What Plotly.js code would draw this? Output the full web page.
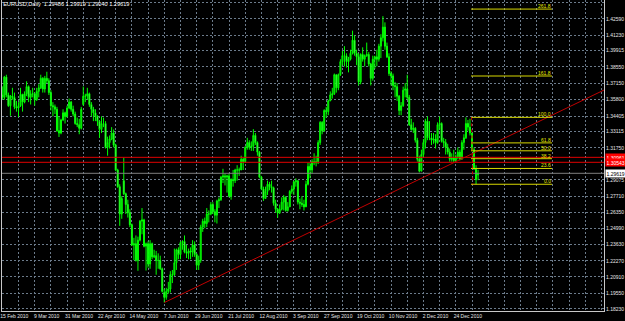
<!DOCTYPE html>
<html><head><meta charset="utf-8">
<script src="https://cdn.plot.ly/plotly-3.0.1.min.js"></script>
<style>html,body{margin:0;padding:0;background:#000;overflow:hidden}#chart{width:625px;height:321px}</style>
</head><body><div id="chart"></div>
<script>
const symbolTitle = 'EURUSD,Daily  1.29486 1.29919 1.29040 1.29619';
const dateLabels = ['15 Feb 2010','9 Mar 2010','31 Mar 2010','22 Apr 2010','14 May 2010','7 Jun 2010','29 Jun 2010','21 Jul 2010','12 Aug 2010','3 Sep 2010','27 Sep 2010','19 Oct 2010','10 Nov 2010','2 Dec 2010','24 Dec 2010'];

const open = [
1.3620,1.3600,1.3770,1.3620,1.3530, 1.3610,1.3600,1.3520,1.3510,1.3530,
1.3625,1.3560,1.3630,1.3690,1.3600, 1.3630,1.3630,1.3580,1.3650,1.3680,
1.3760,1.3670,1.3760,1.3740,1.3640, 1.3530,1.3520,1.3500,1.3320,1.3300,
1.3410,1.3470,1.3440,1.3510,1.3560, 1.3500,1.3460,1.3380,1.3370,1.3340,
1.3540,1.3610,1.3610,1.3630,1.3540, 1.3500,1.3470,1.3440,1.3400,1.3330,
1.3380,1.3380,1.3180,1.3220,1.3250, 1.3300,1.3200,1.2990,1.2850,1.2620,
1.2900,1.2790,1.2700,1.2630,1.2530, 1.2360,1.2370,1.2230,1.2400,1.2560,
1.2570,1.2350,1.2370,1.2200,1.2370, 1.2260,1.2270,1.2230,1.2230,1.2160,
1.1960,1.1920,1.1970,1.1990,1.2110, 1.2110,1.2210,1.2320,1.2280,1.2380,
1.2390,1.2300,1.2290,1.2310,1.2300, 1.2360,1.2280,1.2190,1.2230,1.2510,
1.2560,1.2540,1.2620,1.2620,1.2700, 1.2640,1.2610,1.2730,1.2740,1.2930,
1.2940,1.2930,1.2940,1.2770,1.2910, 1.2900,1.2990,1.2990,1.2990,1.3080,
1.3060,1.3180,1.3220,1.3180,1.3190, 1.3280,1.3220,1.3140,1.2930,1.2830,
1.2750,1.2810,1.2870,1.2850,1.2840, 1.2710,1.2660,1.2630,1.2660,1.2720,
1.2760,1.2650,1.2680,1.2810,1.2830, 1.2890,1.2900,1.2720,1.2710,1.2700,
1.2680,1.2870,1.3020,1.2990,1.3060, 1.3050,1.3060,1.3220,1.3390,1.3320,
1.3490,1.3480,1.3570,1.3620,1.3630, 1.3790,1.3680,1.3790,1.3900,1.3950,
1.3950,1.3900,1.3920,1.3970,1.4080, 1.3970,1.3940,1.3730,1.3960,1.3920,
1.3950,1.3960,1.3880,1.3760,1.3920, 1.3940,1.3920,1.4030,1.4100,1.4190,
1.4030,1.3940,1.3800,1.3780,1.3700, 1.3690,1.3610,1.3490,1.3530,1.3660,
1.3670,1.3600,1.3370,1.3330,1.3340, 1.3240,1.3080,1.2980,1.3120,1.3220,
1.3400,1.3260,1.3260,1.3240,1.3250, 1.3220,1.3370,1.3380,1.3230,1.3220,
1.3180,1.3140,1.3080,1.3090,1.3070, 1.3100,1.3140,1.3080,1.3220,1.3260,
1.3380,1.3350,1.3300,1.3160,1.3000, 1.29486];

const high = [
1.3692,1.3780,1.3790,1.3640,1.3620, 1.3680,1.3640,1.3570,1.3560,1.3680,
1.3630,1.3650,1.3735,1.3700,1.3660, 1.3680,1.3640,1.3680,1.3710,1.3790,
1.3770,1.3780,1.3815,1.3760,1.3660, 1.3560,1.3540,1.3520,1.3440,1.3420,
1.3500,1.3480,1.3530,1.3590,1.3570, 1.3530,1.3480,1.3430,1.3420,1.3520,
1.3691,1.3630,1.3680,1.3640,1.3560, 1.3520,1.3500,1.3450,1.3400,1.3440,
1.3430,1.3400,1.3270,1.3280,1.3350, 1.3330,1.3210,1.3000,1.2870,1.2770,
1.3094,1.2800,1.2740,1.2660,1.2540, 1.2420,1.2440,1.2430,1.2570,1.2670,
1.2580,1.2380,1.2390,1.2400,1.2380, 1.2320,1.2310,1.2290,1.2270,1.2170,
1.1990,1.2000,1.2050,1.2140,1.2150, 1.2330,1.2330,1.2340,1.2390,1.2400,
1.2440,1.2360,1.2330,1.2340,1.2400, 1.2390,1.2290,1.2270,1.2530,1.2580,
1.2590,1.2670,1.2650,1.2720,1.2720, 1.2660,1.2740,1.2760,1.2940,1.3000,
1.2960,1.2950,1.2960,1.2920,1.2990, 1.3000,1.3030,1.3010,1.3110,1.3090,
1.3190,1.3260,1.3240,1.3230,1.3333, 1.3300,1.3230,1.3150,1.2940,1.2850,
1.2850,1.2900,1.2890,1.2900,1.2850, 1.2740,1.2670,1.2700,1.2760,1.2780,
1.2770,1.2720,1.2820,1.2860,1.2900, 1.2920,1.2900,1.2750,1.2770,1.2740,
1.2900,1.3050,1.3050,1.3080,1.3130, 1.3110,1.3240,1.3400,1.3400,1.3500,
1.3520,1.3580,1.3650,1.3680,1.3800, 1.3790,1.3800,1.3920,1.3990,1.4030,
1.3970,1.3940,1.4000,1.4160,1.4120, 1.4000,1.3970,1.3970,1.4020,1.3960,
1.4060,1.3980,1.3890,1.3950,1.3950, 1.4000,1.4050,1.4130,1.4282,1.4230,
1.4060,1.3970,1.3820,1.3800,1.3730, 1.3720,1.3620,1.3560,1.3690,1.3720,
1.3790,1.3620,1.3420,1.3390,1.3350, 1.3260,1.3110,1.3160,1.3250,1.3420,
1.3440,1.3400,1.3300,1.3300,1.3290, 1.3390,1.3440,1.3390,1.3260,1.3250,
1.3210,1.3170,1.3130,1.3160,1.3120, 1.3180,1.3160,1.3240,1.3290,1.3432,
1.3410,1.3420,1.3300,1.3180,1.3030, 1.29919];

const low = [
1.3580,1.3580,1.3600,1.3520,1.3445, 1.3580,1.3500,1.3480,1.3435,1.3520,
1.3480,1.3550,1.3610,1.3560,1.3540, 1.3600,1.3530,1.3570,1.3600,1.3670,
1.3640,1.3640,1.3720,1.3620,1.3490, 1.3440,1.3460,1.3310,1.3267,1.3290,
1.3400,1.3380,1.3430,1.3500,1.3480, 1.3440,1.3370,1.3350,1.3290,1.3330,
1.3530,1.3560,1.3580,1.3520,1.3440, 1.3400,1.3400,1.3360,1.3260,1.3300,
1.3350,1.3170,1.3110,1.3170,1.3240, 1.3180,1.2980,1.2840,1.2520,1.2580,
1.2780,1.2620,1.2590,1.2510,1.2350, 1.2233,1.2220,1.2143,1.2390,1.2450,
1.2340,1.2145,1.2170,1.2160,1.2240, 1.2250,1.2110,1.2160,1.2150,1.1960,
1.1876,1.1900,1.1950,1.1960,1.2040, 1.2100,1.2150,1.2240,1.2240,1.2320,
1.2290,1.2250,1.2240,1.2240,1.2260, 1.2260,1.2150,1.2150,1.2210,1.2470,
1.2500,1.2510,1.2550,1.2610,1.2620, 1.2550,1.2540,1.2670,1.2730,1.2880,
1.2860,1.2800,1.2760,1.2740,1.2850, 1.2880,1.2900,1.2940,1.2990,1.2990,
1.3050,1.3160,1.3160,1.3150,1.3150, 1.3200,1.3110,1.2920,1.2820,1.2730,
1.2750,1.2780,1.2820,1.2800,1.2690, 1.2630,1.2588,1.2620,1.2650,1.2650,
1.2640,1.2640,1.2680,1.2790,1.2780, 1.2850,1.2700,1.2660,1.2680,1.2650,
1.2680,1.2860,1.2920,1.2960,1.3030, 1.3020,1.3040,1.3200,1.3290,1.3310,
1.3430,1.3450,1.3570,1.3590,1.3620, 1.3640,1.3660,1.3780,1.3870,1.3860,
1.3850,1.3810,1.3910,1.3960,1.3950, 1.3870,1.3700,1.3710,1.3900,1.3860,
1.3940,1.3860,1.3700,1.3740,1.3840, 1.3860,1.3900,1.3930,1.4070,1.4000,
1.3930,1.3780,1.3700,1.3660,1.3600, 1.3570,1.3450,1.3450,1.3520,1.3600,
1.3580,1.3360,1.3320,1.3300,1.3220, 1.3060,1.2970,1.2980,1.3100,1.3170,
1.3240,1.3240,1.3200,1.3210,1.3170, 1.3210,1.3330,1.3220,1.3180,1.3120,
1.3120,1.3060,1.3060,1.3050,1.3060, 1.3080,1.3070,1.3080,1.3160,1.3250,
1.3320,1.3280,1.3150,1.2990,1.2870, 1.29040];

const close = [
1.3600,1.3770,1.3620,1.3530,1.3610, 1.3600,1.3520,1.3510,1.3530,1.3625,
1.3560,1.3630,1.3690,1.3600,1.3630, 1.3630,1.3580,1.3650,1.3680,1.3760,
1.3670,1.3760,1.3740,1.3640,1.3530, 1.3520,1.3500,1.3320,1.3300,1.3410,
1.3470,1.3440,1.3510,1.3560,1.3500, 1.3460,1.3380,1.3370,1.3340,1.3500,
1.3610,1.3610,1.3630,1.3540,1.3500, 1.3470,1.3440,1.3400,1.3330,1.3380,
1.3380,1.3180,1.3220,1.3250,1.3300, 1.3200,1.2990,1.2850,1.2620,1.2750,
1.2790,1.2700,1.2630,1.2530,1.2360, 1.2370,1.2230,1.2400,1.2560,1.2570,
1.2350,1.2370,1.2200,1.2370,1.2260, 1.2270,1.2230,1.2230,1.2160,1.1970,
1.1920,1.1970,1.1990,1.2110,1.2110, 1.2210,1.2320,1.2280,1.2380,1.2390,
1.2300,1.2290,1.2310,1.2300,1.2360, 1.2280,1.2190,1.2230,1.2510,1.2560,
1.2540,1.2620,1.2620,1.2700,1.2640, 1.2610,1.2730,1.2740,1.2930,1.2940,
1.2930,1.2940,1.2770,1.2910,1.2900, 1.2990,1.2990,1.2990,1.3080,1.3060,
1.3180,1.3220,1.3180,1.3190,1.3280, 1.3220,1.3140,1.2930,1.2830,1.2750,
1.2810,1.2870,1.2850,1.2840,1.2710, 1.2660,1.2630,1.2660,1.2720,1.2760,
1.2650,1.2680,1.2810,1.2830,1.2890, 1.2900,1.2720,1.2710,1.2700,1.2680,
1.2870,1.3020,1.2990,1.3060,1.3050, 1.3060,1.3220,1.3390,1.3320,1.3490,
1.3480,1.3570,1.3620,1.3630,1.3790, 1.3680,1.3790,1.3900,1.3950,1.3950,
1.3900,1.3920,1.3970,1.4080,1.3970, 1.3940,1.3730,1.3960,1.3920,1.3950,
1.3960,1.3880,1.3760,1.3920,1.3940, 1.3920,1.4030,1.4100,1.4190,1.4030,
1.3940,1.3800,1.3780,1.3700,1.3690, 1.3610,1.3490,1.3530,1.3660,1.3670,
1.3600,1.3370,1.3330,1.3340,1.3240, 1.3080,1.2980,1.3120,1.3220,1.3400,
1.3260,1.3260,1.3240,1.3250,1.3220, 1.3370,1.3380,1.3230,1.3220,1.3180,
1.3140,1.3080,1.3090,1.3070,1.3100, 1.3140,1.3080,1.3220,1.3260,1.3380,
1.3350,1.3300,1.3160,1.3000,1.2910, 1.29619];

const priceTicks = ['1.43950','1.42590','1.41230','1.39915','1.38550','1.37150','1.35800','1.34405','1.33115','1.31750','1.29075','1.27710','1.26350','1.24990','1.23630','1.22270','1.20910','1.19550','1.18230'];
const redLevels = [1.30961, 1.30543];
const bidPrice = 1.29619;
const trendBars = [80, 330];
const trendPrices = [1.1876, 1.3931];
const fibBars = [231.5, 271.5];
const fibAnchorBars = [231.8, 232.4];
const fibHigh = 1.3432, fibLow = 1.2870;
const fibLevels = [0, 23.6, 38.2, 50, 61.8, 100, 161.8, 261.8];

const xIdx = open.map((_, i) => i);
const BARS_PER_GRID = 8, BARS_PER_LABEL = 16, LAST_GRID = 296;
const tickvals = [], ticktext = [];
for (let k = 0; k <= LAST_GRID; k += BARS_PER_GRID) {
  tickvals.push(k);
  const li = k / BARS_PER_LABEL;
  ticktext.push(k % BARS_PER_LABEL === 0 && li < dateLabels.length ? dateLabels[li] : '');
}

const FONT = 'Liberation Sans, Arial, sans-serif';
const gridColor = '#6c7b8b';
const lime = '#00ff00';

const trace = {
  type: 'candlestick', x: xIdx, open, high, low, close,
  increasing: {line: {color: lime, width: 1}, fillcolor: '#00a000'},
  decreasing: {line: {color: lime, width: 1}, fillcolor: '#d8ffd8'},
  whiskerwidth: 0, hoverinfo: 'skip', showlegend: false
};

const shapes = [];
redLevels.forEach(p => shapes.push({type:'line', xref:'paper', x0:0, x1:1, yref:'y', y0:p, y1:p, line:{color:'#e00000', width:1}}));
shapes.push({type:'line', xref:'paper', x0:0, x1:1, yref:'y', y0:bidPrice, y1:bidPrice, line:{color:'#7f7f7f', width:1}});
shapes.push({type:'line', xref:'x', yref:'y', x0:trendBars[0], x1:trendBars[1], y0:trendPrices[0], y1:trendPrices[1], line:{color:'#c00000', width:1}});
const fibPrice = r => fibLow + (fibHigh - fibLow) * r / 100;
fibLevels.forEach(r => shapes.push({type:'line', xref:'x', yref:'y', x0:fibBars[0], x1:fibBars[1], y0:fibPrice(r), y1:fibPrice(r), line:{color:'#d8d800', width:1}}));
shapes.push({type:'line', xref:'x', yref:'y', x0:fibAnchorBars[0], x1:fibAnchorBars[1], y0:fibHigh, y1:fibLow, line:{color:'#d00000', width:1, dash:'dot'}});

const annotations = [];
fibLevels.forEach(r => annotations.push({xref:'x', yref:'y', x:fibBars[1], y:fibPrice(r), xanchor:'right', yanchor:'bottom', showarrow:false, text:r.toFixed(1), font:{family:FONT, size:5, color:'#e8e800'}, borderpad:0, yshift:-1}));
redLevels.forEach(p => annotations.push({xref:'paper', yref:'y', x:1, y:p, xanchor:'left', yanchor:'middle', xshift:1, showarrow:false, text:p.toFixed(5), bgcolor:'#ff0000', font:{family:FONT, size:5, color:'#ffffff'}, borderpad:0.5, width:21, align:'left'}));
annotations.push({xref:'paper', yref:'y', x:1, y:bidPrice, xanchor:'left', yanchor:'middle', xshift:1, showarrow:false, text:bidPrice.toFixed(5), bgcolor:'#ffffff', font:{family:FONT, size:5, color:'#000000'}, borderpad:0.5, width:21, align:'left'});

const layout = {
  width: 625, height: 321,
  paper_bgcolor: '#000', plot_bgcolor: '#000',
  margin: {l: 2, r: 21, t: 0, b: 10},
  showlegend: false,
  title: {text: symbolTitle, x: 0.005, xanchor: 'left', xref: 'container', y: 0.992, yref: 'container', yanchor: 'top', font: {family: FONT, size: 5.6, color: '#ffffff'}},
  xaxis: {
    range: [-0.15, 297.2], tickvals, ticktext, tickmode: 'array',
    showgrid: true, gridcolor: gridColor, griddash: '2px,2px', gridwidth: 1,
    zeroline: false, showline: true, linecolor: '#c8c8c8', linewidth: 1,
    ticks: '', tickangle: 0, ticklabelshift: 12,
    tickfont: {family: FONT, size: 5, color: '#e6e6e6'},
    rangeslider: {visible: false}, fixedrange: true
  },
  yaxis: {
    side: 'right', range: [1.18053, 1.44177],
    tickmode: 'array', tickvals: priceTicks.map(Number), ticktext: priceTicks,
    showgrid: true, gridcolor: gridColor, griddash: '2px,2px', gridwidth: 1,
    zeroline: false, showline: true, mirror: true, linecolor: '#c8c8c8', linewidth: 1,
    ticks: '', tickfont: {family: FONT, size: 5, color: '#e6e6e6'}, fixedrange: true
  },
  boxgap: 0.3,
  shapes, annotations
};

Plotly.newPlot('chart', [trace], layout, {staticPlot: true, displayModeBar: false});
</script></body></html>
